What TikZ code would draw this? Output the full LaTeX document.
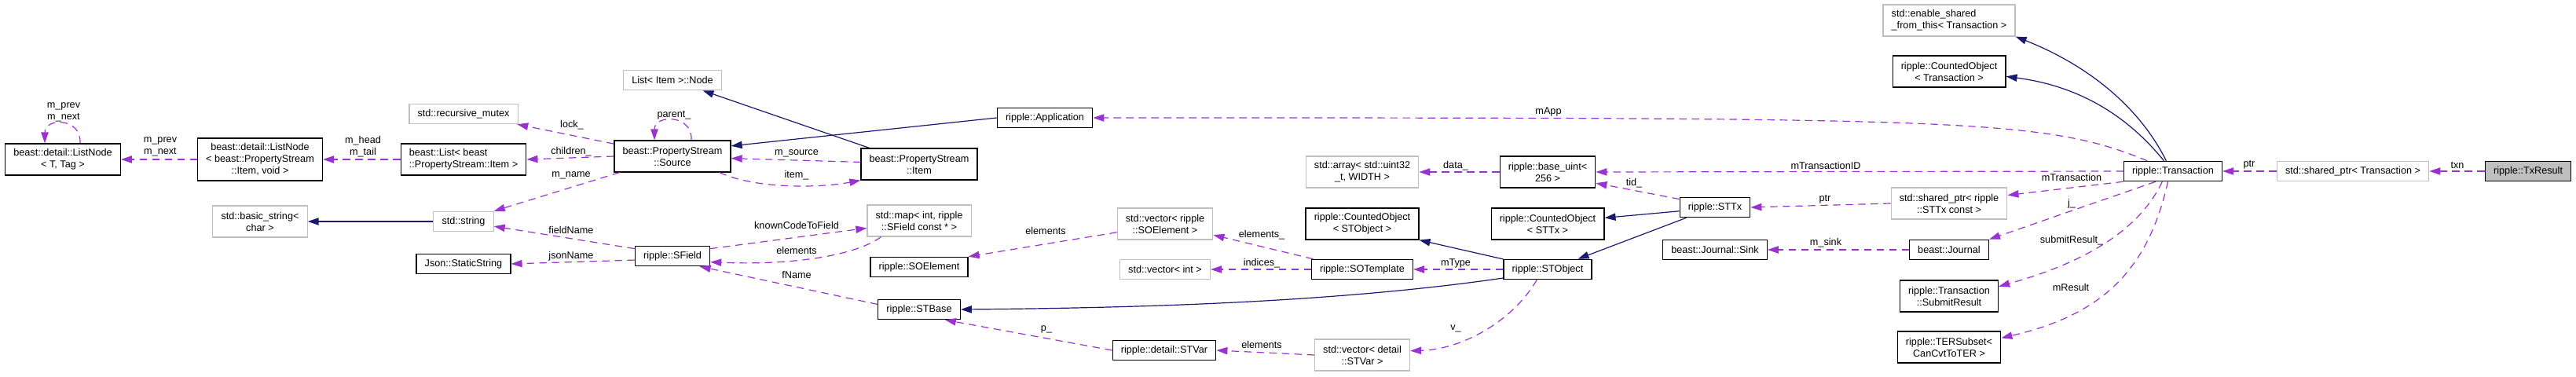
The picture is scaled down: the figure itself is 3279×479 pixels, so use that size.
\documentclass[tikz,border=0pt]{standalone}
\usepackage{fontspec}
\setmainfont{Liberation Sans}
\usetikzlibrary{arrows.meta,calc}
\usepackage{xcolor}

\definecolor{useclr}{HTML}{9A32CD}
\definecolor{inhclr}{HTML}{191970}
\definecolor{grey75}{HTML}{BFBFBF}
\newcommand{\dotfont}{\fontsize{9.5pt}{11.25pt}\selectfont}

\tikzset{
  cls/.style={draw=black, line width=0.9pt, font=\dotfont, inner xsep=8pt, inner ysep=2pt, minimum height=19pt, align=center},
  ext/.style={cls, draw=grey75},
  root/.style={cls, fill=grey75},
  two/.style={minimum height=30pt},
  three/.style={minimum height=40.5pt},
  use/.style={useclr, line width=0.9pt, dash pattern=on 7pt off 5pt, -{Triangle[length=10.5pt,width=7pt]}},
  inh/.style={inhclr, line width=0.9pt, -{Triangle[length=10.5pt,width=7pt]}},
  lbl/.style={font=\dotfont, text=black, inner sep=0pt, align=center}
}

\begin{document}
\begin{tikzpicture}[x=0.75pt, y=-0.75pt]
        \useasboundingbox (0,0) rectangle (3279,479);
        % classes
        \node[cls,two] (lnT) at (80,203) {beast::detail::ListNode\\< T, Tag >};
        \node[cls,three] (lnItem) at (331,203) {beast::detail::ListNode\\< beast::PropertyStream\\::Item, void >};
        \node[cls,two,align=left] (listItem) at (590,203) {beast::List< beast\\::PropertyStream::Item >};
        \node[ext] (mutex) at (590,145) {std::recursive\_mutex};
        \node[ext] (inode) at (856,102) {List< Item >::Node};
        \node[cls,two] (source) at (856,199) {beast::PropertyStream\\::Source};
        \node[cls,two] (psItem) at (1170,209) {beast::PropertyStream\\::Item};
        \node[cls] (app) at (1330,150) {ripple::Application};
        \node[ext,two] (bstring) at (331,282) {std::basic\_string<\\char >};
        \node[ext] (string) at (590,282) {std::string};
        \node[cls] (json) at (590,336) {Json::StaticString};
        \node[cls] (sfield) at (856,326) {ripple::SField};
        \node[ext,two] (map) at (1170,281) {std::map< int, ripple\\::SField const * >};
        \node[cls] (soelem) at (1170,340) {ripple::SOElement};
        \node[cls] (stbase) at (1170,394) {ripple::STBase};
        \node[ext,two] (vecsoe) at (1483,285) {std::vector< ripple\\::SOElement >};
        \node[ext] (vecint) at (1483,343) {std::vector< int >};
        \node[cls] (stvar) at (1482,446) {ripple::detail::STVar};
        \node[ext,two] (array) at (1734,219) {std::array< std::uint32\\\_t, WIDTH >};
        \node[cls,two] (cntso) at (1734,285) {ripple::CountedObject\\< STObject >};
        \node[cls] (sotempl) at (1734,343) {ripple::SOTemplate};
        \node[ext,two] (vecstvar) at (1734,452) {std::vector< detail\\::STVar >};
        \node[cls,two] (baseuint) at (1970,219) {ripple::base\_uint<\\256 >};
        \node[cls,two] (cntsttx) at (1970,285) {ripple::CountedObject\\< STTx >};
        \node[cls] (stobject) at (1970,343) {ripple::STObject};
        \node[cls] (sttx) at (2183,264) {ripple::STTx};
        \node[cls] (sink) at (2183,318) {beast::Journal::Sink};
        \node[ext,two,align=left] (enshared) at (2481,26) {std::enable\_shared\\\_from\_this< Transaction >};
        \node[cls,two] (cnttrans) at (2481,91) {ripple::CountedObject\\< Transaction >};
        \node[cls] (trans) at (2766,218) {ripple::Transaction};
        \node[ext,two] (sptrsttx) at (2481,259) {std::shared\_ptr< ripple\\::STTx const >};
        \node[cls] (journal) at (2481,318) {beast::Journal};
        \node[cls,two] (subres) at (2481,377) {ripple::Transaction\\::SubmitResult};
        \node[cls,two] (ters) at (2481,442) {ripple::TERSubset<\\CanCvtToTER >};
        \node[ext] (sptrtxn) at (2995,218) {std::shared\_ptr< Transaction >};
        \node[root] (txresult) at (3218,218) {ripple::TxResult};

        % inheritance
        \draw[inh] (string) -- (bstring);
        \draw[inh] (app.west) -- (source.10);
        \draw[inh] (psItem.162) -- (inode);
        \draw[inh] (stobject.191) .. controls (1700,385) and (1450,392) .. (stbase.east);
        \draw[inh] (stobject.167) -- (cntso.south east);
        \draw[inh] (sttx.186) -- (cntsttx.6);
        \draw[inh] (sttx.200) -- (stobject.19);
        \draw[inh] (trans.123) .. controls (2720,130) and (2650,80) .. (enshared.south east);
        \draw[inh] (trans.131) .. controls (2710,150) and (2650,110) .. (cnttrans.-5);

        % members
        \draw[use] ($(lnT.north)+(22,0)$) .. controls +(2,-33) and +(0,-33) .. ($(lnT.north)+(-23,0)$) node[lbl] at (81,143) {m\_prev\\m\_next};
        \draw[use] (lnItem) -- (lnT) node[lbl] at (204,187) {m\_prev\\m\_next};
        \draw[use] (listItem) -- (lnItem) node[lbl] at (462,187) {m\_head\\m\_tail};
        \draw[use] (source.west) -- (listItem.east) node[lbl] at (727,193) {children\_};
        \draw[use] (source.168) -- (mutex.-11) node[lbl] at (728,159) {lock\_};
        \draw[use] ($(source.north)+(24,0)$) .. controls +(2,-33) and +(0,-33) .. ($(source.north)+(-23,0)$) node[lbl] at (858,147) {parent\_};
        \draw[use] (source.197) -- (string.north east) node[lbl] at (727,223) {m\_name};
        \draw[use] (psItem.178) -- (source.-2) node[lbl] at (1014,195) {m\_source};
        \draw[use] (source.-19) .. controls (960,240) and (1040,240) .. (psItem.south west) node[lbl] at (1014,223) {item\_};
        \draw[use] (sfield.169) -- (string.-9) node[lbl] at (727,293) {fieldName};
        \draw[use] (sfield.186) -- (json.east) node[lbl] at (727,326) {jsonName};
        \draw[use] (sfield.11) -- (map.188) node[lbl] at (1014,287) {knownCodeToField};
        \draw[use] (map.203) .. controls (1090,325) and (1010,338) .. (sfield.-9) node[lbl] at (1014,319) {elements};
        \draw[use] (stbase.173) -- (sfield.-21) node[lbl] at (1014,350) {fName};
        \draw[use] (vecsoe.190) -- (soelem.north east) node[lbl] at (1331,294) {elements};
        \draw[use] (stvar.west) -- (stbase.-22) node[lbl] at (1332,419) {p\_};
        \draw[use] (sotempl.168) -- (vecsoe.-13) node[lbl] at (1606,299) {elements\_};
        \draw[use] (sotempl.west) -- (vecint.east) node[lbl] at (1606,335) {indices\_};
        \draw[use] (stobject.west) -- (sotempl.east) node[lbl] at (1853,335) {mType};
        \draw[use] (stobject.224) .. controls (1925,410) and (1860,445) .. (vecstvar.5) node[lbl] at (1853,418) {v\_};
        \draw[use] (vecstvar.west) -- (stvar.east) node[lbl] at (1606,439) {elements};
        \draw[use] (baseuint.west) -- (array.east) node[lbl] at (1853,211) {data\_};
        \draw[use] (trans.158) .. controls (2600,150) and (2500,150) .. (app.east) node[lbl] at (1971,142) {mApp};
        \draw[use] (trans.west) -- (baseuint.east) node[lbl] at (2324,211) {mTransactionID};
        \draw[use] (sttx.167) -- (baseuint.-13) node[lbl] at (2080,233) {tid\_};
        \draw[use] (sptrsttx.west) -- (sttx.east) node[lbl] at (2323,254) {ptr};
        \draw[use] (journal.west) -- (sink.east) node[lbl] at (2324,309) {m\_sink};
        \draw[use] (trans.south west) -- (sptrsttx.8) node[lbl] at (2637,226) {mTransaction};
        \draw[use] (trans.211) -- (journal.north east) node[lbl] at (2637,259) {j\_};
        \draw[use] (trans.224) .. controls (2720,300) and (2640,338) .. (subres.11) node[lbl] at (2637,306) {submitResult\_};
        \draw[use] (trans.244) .. controls (2735,340) and (2680,400) .. (ters.10) node[lbl] at (2636,366) {mResult};
        \draw[use] (sptrtxn.west) -- (trans.east) node[lbl] at (2863,210) {ptr};
        \draw[use] (txresult.west) -- (sptrtxn.east) node[lbl] at (3128,210) {txn};
    \end{tikzpicture}
\end{document}
